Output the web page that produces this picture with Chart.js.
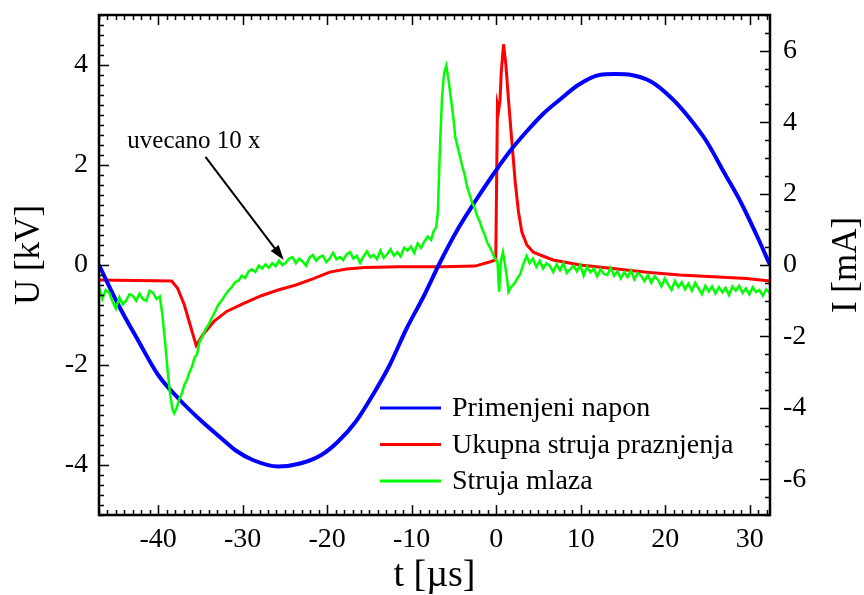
<!DOCTYPE html>
<html>
<head>
<meta charset="utf-8">
<script src="https://cdn.jsdelivr.net/npm/chart.js@4.4.0/dist/chart.umd.min.js"></script>
<style>
  html, body { margin: 0; padding: 0; background: #fff; }
</style>
</head>
<body>
<canvas id="MyChart" width="864" height="595"></canvas>
<script>
// applied voltage, U [kV] vs t [µs]
const voltT = [-47, -44.7, -42.3, -40.0, -37.6, -35.2, -32.5, -30.9, -28.8, -25.8, -23.2, -20.7, -18.7, -16.6, -14.6, -12.6, -10.6, -8.5, -6.8, -4.5, -2.5, -0.4, 1.6, 3.6, 5.6, 7.7, 9.7, 12.2, 14.1, 16.0, 18.3, 20.8, 22.9, 24.9, 26.9, 28.9, 31.0, 32.4];
const voltU = [0, -0.8, -1.53, -2.2, -2.67, -3.07, -3.47, -3.7, -3.9, -4.03, -3.97, -3.8, -3.53, -3.13, -2.6, -2.0, -1.27, -0.6, 0, 0.73, 1.27, 1.8, 2.27, 2.67, 3.03, 3.33, 3.6, 3.8, 3.82, 3.8, 3.67, 3.33, 2.93, 2.47, 1.87, 1.27, 0.53, 0];

// total discharge current, I [mA]
const totalT = [-47, -38.4, -37.7, -36.9, -36.1, -35.5, -34.7, -33.4, -31.9, -29.8, -27.8, -25.8, -23.7, -21.7, -19.7, -17.7, -15.6, -11.6, -6.5, -2.5, -0.7, -0.05, 0.15, 0.3, 0.45, 0.6, 0.87, 1.15, 1.45, 1.86, 2.25, 2.64, 3.04, 3.63, 4.4, 5.2, 6.74, 9.93, 13.8, 17.8, 21.7, 25.7, 29.6, 32.4];
const totalI = [-0.42, -0.45, -0.65, -1.12, -1.77, -2.25, -1.95, -1.58, -1.30, -1.07, -0.86, -0.70, -0.56, -0.39, -0.20, -0.11, -0.07, -0.05, -0.05, -0.03, 0.09, 0.14, 4.50, 4.35, 4.6, 5.4, 6.18, 5.6, 4.64, 3.44, 2.32, 1.48, 0.92, 0.56, 0.36, 0.28, 0.14, 0.0, -0.1, -0.2, -0.28, -0.33, -0.38, -0.45];

// jet current (magnified 10x), I [mA]
const jetT = [-47.0, -46.6, -46.2, -45.8, -45.4, -45.0, -44.6, -44.2, -43.8, -43.4, -43.0, -42.6, -42.2, -41.8, -41.4, -41.0, -40.6, -40.2, -39.8,
  -39.5, -39.2, -38.9, -38.6, -38.3, -38.1, -37.8, -37.5, -37.2, -36.9, -36.6, -36.3, -36.0, -35.7, -35.4, -35.1, -34.8, -34.4, -34.0, -33.6, -33.3, -32.9, -32.5, -32.1, -31.7, -31.3, -30.9, -30.5, -30.1, -29.7, -29.3, -28.9, -28.5, -28.1, -27.7, -27.3, -26.9, -26.5, -26.1,
  -25.7, -25.3, -24.9, -24.5, -24.1, -23.7, -23.3, -22.9, -22.5, -22.1, -21.7, -21.3, -20.9, -20.5, -20.1, -19.7, -19.3, -18.9, -18.5, -18.1, -17.7, -17.3, -16.9, -16.5, -16.1, -15.7, -15.3, -14.9, -14.5, -14.1, -13.7, -13.3, -12.9, -12.5, -12.1, -11.7, -11.3, -10.9, -10.5, -10.1, -9.7, -9.3, -8.9, -8.5, -8.1, -7.7,
  -7.4, -7.1, -6.9, -6.8, -6.6, -6.4, -6.15, -5.9, -5.65, -5.35, -5.05, -4.85, -4.45, -4.05, -3.75, -3.45, -3.15, -2.85, -2.55, -2.25, -1.95, -1.65, -1.35, -1.05, -0.75, -0.45, -0.15, 0.15, 0.35, 0.55, 0.8, 1.05, 1.3, 1.45, 1.75, 2.05, 2.45, 2.85, 3.25, 3.6, 3.95, 4.35, 4.75,
  5.15, 5.55, 5.95, 6.35, 6.75, 7.15, 7.55, 7.95, 8.35, 8.75, 9.15, 9.55, 9.95, 10.35, 10.75, 11.15, 11.55, 11.95, 12.35, 12.75, 13.15, 13.55, 13.95, 14.35, 14.75, 15.15, 15.55, 15.95, 16.35, 16.75, 17.15, 17.55, 17.95, 18.35, 18.75, 19.15, 19.55, 19.95, 20.35, 20.75, 21.15, 21.55, 21.95, 22.35, 22.75, 23.15, 23.55, 23.95, 24.35, 24.75, 25.15, 25.55, 25.95, 26.35, 26.75, 27.15, 27.55, 27.95, 28.35, 28.75, 29.15, 29.55, 29.95, 30.35, 30.75, 31.15, 31.55, 31.95, 32.4];
const jetI = [-0.62, -0.95, -0.70, -0.78, -1.02, -1.22, -0.90, -1.10, -1.00, -0.82, -0.86, -1.00, -0.80, -0.96, -1.00, -0.72, -0.78, -0.95, -0.88,
  -1.40, -2.10, -2.90, -3.60, -4.05, -4.15, -4.00, -3.75, -3.60, -3.35, -3.22, -3.00, -2.85, -2.60, -2.50, -2.15, -2.02, -1.80, -1.66, -1.45, -1.33, -1.12, -1.00, -0.85, -0.72, -0.62, -0.48, -0.44, -0.30, -0.36, -0.18, -0.12, -0.20, -0.02, -0.10, 0.02, -0.08, 0.05, -0.03,
  0.12, 0.00, 0.06, 0.18, 0.22, 0.05, 0.18, 0.10, -0.02, 0.20, 0.28, 0.12, 0.22, 0.26, 0.08, 0.18, 0.34, 0.16, 0.22, 0.14, 0.30, 0.36, 0.18, 0.26, 0.06, 0.24, 0.38, 0.22, 0.28, 0.16, 0.40, 0.20, 0.30, 0.44, 0.26, 0.36, 0.24, 0.48, 0.40, 0.52, 0.34, 0.60, 0.48, 0.66, 0.80, 0.70,
  0.95, 1.05, 1.50, 2.23, 3.62, 4.74, 5.39, 5.58, 5.20, 4.65, 4.09, 3.60, 3.20, 2.80, 2.55, 2.20, 1.98, 1.75, 1.60, 1.38, 1.22, 1.00, 0.85, 0.62, 0.50, 0.34, 0.18, 0.10, -0.75, 0.10, 0.36, 0.00, -0.40, -0.75, -0.62, -0.55, -0.40, -0.25, 0.05, 0.25, 0.05, 0.18, -0.05,
  0.12, -0.10, 0.05, -0.02, -0.20, 0.02, -0.15, 0.05, -0.22, -0.12, -0.02, -0.18, 0.00, -0.30, -0.05, -0.20, -0.10, -0.32, -0.12, -0.25, -0.28, -0.08, -0.30, -0.18, -0.38, -0.20, -0.34, -0.16, -0.40, -0.22, -0.30, -0.45, -0.28, -0.50, -0.32, -0.42, -0.60, -0.38, -0.55, -0.70, -0.45, -0.62, -0.48, -0.68, -0.52, -0.72, -0.50, -0.66, -0.82, -0.58, -0.74, -0.60, -0.80, -0.62, -0.76, -0.64, -0.84, -0.60, -0.72, -0.58, -0.78, -0.66, -0.82, -0.62, -0.76, -0.70, -0.86, -0.68, -0.78];

const xTicks = [-40, -30, -20, -10, 0, 10, 20, 30];
const uTicks = [-4, -2, 0, 2, 4];
const iTicks = [-6, -4, -2, 0, 2, 4, 6];

const seriesNames = ['Primenjeni napon', 'Ukupna struja praznjenja', 'Struja mlaza'];
const seriesColors = ['#0000ff', '#ff0000', '#00ff00'];
const noteText = 'uvecano 10 x';

const FONT = "'Liberation Serif', 'Times New Roman', serif";

function pairs(xs, ys) {
  return xs.map((x, i) => ({x: x, y: ys[i]}));
}

function fixedTicks(list) {
  return (s) => { s.ticks = list.map(v => ({value: v})); };
}

// inward ticks + box frame + y titles
const framePlugin = {
  id: 'frame',
  afterDraw(chart) {
    const ctx = chart.ctx;
    const a = chart.chartArea;
    const sx = chart.scales.x, sy = chart.scales.y, sy1 = chart.scales.y1;
    ctx.save();
    ctx.strokeStyle = '#000';
    ctx.lineWidth = 1.5;
    ctx.beginPath();
    for (let i = -47; i <= 32; i++) {
      const p = Math.round(sx.getPixelForValue(i)) + 0.5;
      const len = (i % 10 === 0) ? 10 : 5;
      ctx.moveTo(p, a.bottom); ctx.lineTo(p, a.bottom - len);
      ctx.moveTo(p, a.top); ctx.lineTo(p, a.top + len);
    }
    for (let i = -25; i <= 25; i++) {
      const p = Math.round(sy.getPixelForValue(i / 5)) + 0.5;
      const len = (i % 10 === 0) ? 10 : 5;
      ctx.moveTo(a.left, p); ctx.lineTo(a.left + len, p);
    }
    for (let i = -14; i <= 14; i++) {
      const p = Math.round(sy1.getPixelForValue(i / 2)) + 0.5;
      const len = (i % 4 === 0) ? 10 : 5;
      ctx.moveTo(a.right, p); ctx.lineTo(a.right - len, p);
    }
    ctx.stroke();
    ctx.lineWidth = 2.5;
    ctx.strokeRect(a.left, a.top, a.right - a.left, a.bottom - a.top);

    // axis titles, reading bottom to top
    ctx.fillStyle = '#000';
    ctx.font = '35px ' + FONT;
    ctx.textAlign = 'center';
    ctx.textBaseline = 'middle';
    ctx.save();
    ctx.translate(30, 255);
    ctx.rotate(-Math.PI / 2);
    ctx.fillText('U [kV]', 0, 0);
    ctx.restore();
    ctx.translate(847, 265);
    ctx.rotate(-Math.PI / 2);
    ctx.fillText('I [mA]', 0, 0);
    ctx.restore();
  }
};

// legend inside the plot + annotation arrow
const notePlugin = {
  id: 'note',
  afterDraw(chart) {
    const ctx = chart.ctx;
    const a = chart.chartArea;
    const sx = chart.scales.x, sy1 = chart.scales.y1;
    ctx.save();
    ctx.font = '28px ' + FONT;
    ctx.textBaseline = 'middle';
    ctx.textAlign = 'left';
    chart.data.datasets.forEach((ds, i) => {
      const y = a.top + 393 + i * 36.5;
      ctx.strokeStyle = ds.borderColor;
      ctx.lineWidth = 3;
      ctx.beginPath();
      ctx.moveTo(a.left + 281, y);
      ctx.lineTo(a.left + 342, y);
      ctx.stroke();
      ctx.fillStyle = '#000';
      ctx.fillText(ds.label, a.left + 353, y + 1);
    });

    ctx.font = '25px ' + FONT;
    ctx.fillText(noteText, sx.getPixelForValue(-43.65), sy1.getPixelForValue(3.47));

    const x0 = sx.getPixelForValue(-34.4), y0 = sy1.getPixelForValue(3.03);
    const x1 = sx.getPixelForValue(-25.14), y1 = sy1.getPixelForValue(0.14);
    const ang = Math.atan2(y1 - y0, x1 - x0);
    ctx.strokeStyle = '#000';
    ctx.fillStyle = '#000';
    ctx.lineWidth = 2;
    ctx.beginPath();
    ctx.moveTo(x0, y0);
    ctx.lineTo(x1 - 10 * Math.cos(ang), y1 - 10 * Math.sin(ang));
    ctx.stroke();
    ctx.beginPath();
    ctx.moveTo(x1, y1);
    ctx.lineTo(x1 - 15 * Math.cos(ang) + 5 * Math.sin(ang), y1 - 15 * Math.sin(ang) - 5 * Math.cos(ang));
    ctx.lineTo(x1 - 15 * Math.cos(ang) - 5 * Math.sin(ang), y1 - 15 * Math.sin(ang) + 5 * Math.cos(ang));
    ctx.closePath();
    ctx.fill();
    ctx.restore();
  }
};

const data = {
  datasets: [{
    label: seriesNames[0],
    data: pairs(voltT, voltU),
    borderColor: seriesColors[0],
    backgroundColor: seriesColors[0],
    borderWidth: 4,
    cubicInterpolationMode: 'monotone',
    yAxisID: 'y',
    order: 2
  },
  {
    label: seriesNames[1],
    data: pairs(totalT, totalI),
    borderColor: seriesColors[1],
    backgroundColor: seriesColors[1],
    borderWidth: 3,
    yAxisID: 'y1',
    order: 3
  },
  {
    label: seriesNames[2],
    data: pairs(jetT, jetI),
    borderColor: seriesColors[2],
    backgroundColor: seriesColors[2],
    borderWidth: 2.5,
    yAxisID: 'y1',
    order: 1
  }]
};

const config = {
  type: 'line',
  data: data,
  options: {
    responsive: false,
    animation: false,
    devicePixelRatio: 1,
    layout: { padding: { top: 15, left: 0, right: 0, bottom: 0 } },
    elements: { point: { radius: 0 }, line: { tension: 0 } },
    plugins: { legend: { display: false }, tooltip: { enabled: false } },
    scales: {
      x: {
        type: 'linear',
        min: -47,
        max: 32.4,
        afterBuildTicks: fixedTicks(xTicks),
        afterFit: (s) => { s.height = 80; s.paddingLeft = 0; s.paddingRight = 0; },
        grid: { display: false, drawTicks: false },
        border: { display: false },
        ticks: {
          padding: 8,
          color: '#000',
          maxRotation: 0,
          autoSkip: false,
          font: { family: FONT, size: 28 }
        },
        title: {
          display: true,
          text: 't [µs]',
          color: '#000',
          padding: { top: 0, bottom: 0 },
          font: { family: FONT, size: 38, lineHeight: 1 }
        }
      },
      y: {
        position: 'left',
        min: -5,
        max: 5,
        afterBuildTicks: fixedTicks(uTicks),
        afterFit: (s) => { s.width = 99; s.paddingTop = 0; s.paddingBottom = 0; },
        grid: { display: false, drawTicks: false },
        border: { display: false },
        ticks: {
          padding: 11,
          color: '#000',
          autoSkip: false,
          font: { family: FONT, size: 28 }
        }
      },
      y1: {
        position: 'right',
        min: -7,
        max: 7,
        afterBuildTicks: fixedTicks(iTicks),
        afterFit: (s) => { s.width = 94; s.paddingTop = 0; s.paddingBottom = 0; },
        grid: { display: false, drawTicks: false },
        border: { display: false },
        ticks: {
          padding: 13,
          color: '#000',
          autoSkip: false,
          font: { family: FONT, size: 28 }
        }
      }
    }
  },
  plugins: [framePlugin, notePlugin]
};

const myChart = new Chart(document.getElementById('MyChart'), config);
</script>
</body>
</html>
